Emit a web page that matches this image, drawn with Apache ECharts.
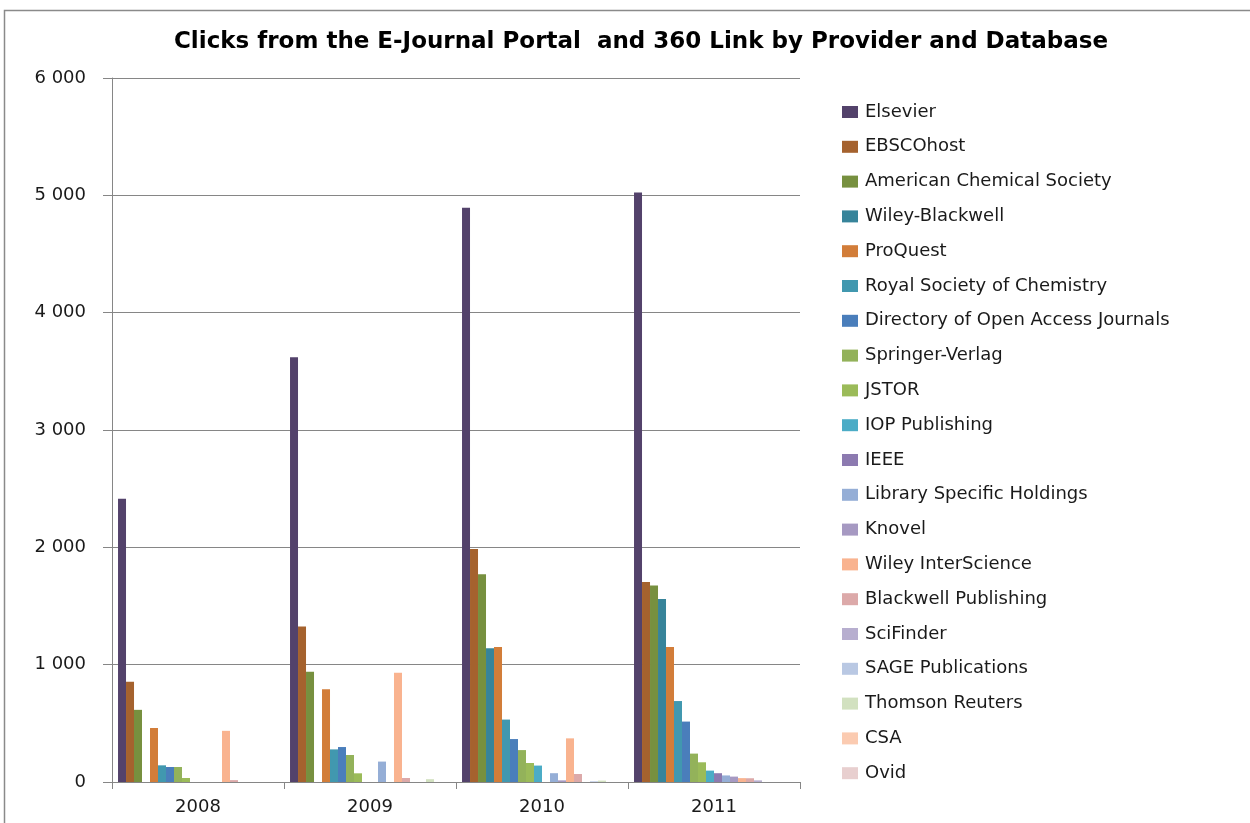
<!DOCTYPE html>
<html>
<head>
<meta charset="utf-8">
<script src="https://cdn.jsdelivr.net/npm/echarts@6/dist/echarts.min.js"></script>
<style>
  html, body { margin: 0; padding: 0; background: #fff; }
  #demo { width: 1250px; height: 823px; }
</style>
</head>
<body>
<div id="demo"></div>
<script>
// data
var years = ['2008', '2009', '2010', '2011'];
var yTicks = [0, 1000, 2000, 3000, 4000, 5000, 6000];

var elsevier      = [2415, 3620, 4895, 5025];
var ebscohost     = [855, 1325, 1985, 1705];
var acs           = [615, 940, 1770, 1675];
var wileyBlack    = [0, 0, 1140, 1560];
var proquest      = [460, 790, 1150, 1150];
var rsc           = [142, 278, 532, 690];
var doaj          = [128, 298, 366, 515];
var springer      = [128, 230, 272, 242];
var jstor         = [34, 74, 162, 168];
var iop           = [0, 0, 140, 97];
var ieee          = [0, 0, 0, 75];
var libSpecific   = [0, 174, 75, 56];
var knovel        = [0, 0, 14, 46];
var wileyInter    = [436, 932, 372, 33];
var blackwell     = [16, 34, 68, 32];
var scifinder     = [0, 0, 0, 14];
var sage          = [0, 0, 6, 0];
var thomson       = [0, 24, 12, 0];
var csa           = [0, 0, 0, 0];
var ovid          = [0, 0, 0, 0];

var providers = ['Elsevier', 'EBSCOhost', 'American Chemical Society', 'Wiley-Blackwell', 'ProQuest',
  'Royal Society of Chemistry', 'Directory of Open Access Journals', 'Springer-Verlag', 'JSTOR',
  'IOP Publishing', 'IEEE', 'Library Specific Holdings', 'Knovel', 'Wiley InterScience',
  'Blackwell Publishing', 'SciFinder', 'SAGE Publications', 'Thomson Reuters', 'CSA', 'Ovid'];
var values = [elsevier, ebscohost, acs, wileyBlack, proquest, rsc, doaj, springer, jstor, iop,
  ieee, libSpecific, knovel, wileyInter, blackwell, scifinder, sage, thomson, csa, ovid];
var colors = ['#53426B', '#A5622E', '#77903F', '#37849A', '#D27D39', '#4198AF', '#4A7EBB',
  '#93B25A', '#9BBB59', '#4BACC6', '#8C7AB0', '#95AED6', '#A699C2', '#F9B38F', '#DCA9A9',
  '#B7AECF', '#B9C8E3', '#D2E1C0', '#FBCBB1', '#E8CFCF'];

var myChart = echarts.init(document.getElementById('demo'));

var series = providers.map(function (name, i) {
  return {
    name: name,
    type: 'bar',
    barGap: '0%',
    barCategoryGap: '7%',
    itemStyle: { color: colors[i] },
    data: values[i]
  };
});

var option = {
  backgroundColor: '#fff',
  animation: false,
  textStyle: { fontFamily: 'DejaVu Sans' },
  title: {
    text: 'Clicks from the E-Journal Portal  and 360 Link by Provider and Database',
    left: 636,
    textAlign: 'center',
    top: 26,
    textStyle: { fontFamily: 'DejaVu Sans', fontSize: 23, fontWeight: 'bold', color: '#000' }
  },
  graphic: [{
    type: 'rect',
    shape: { x: 4.5, y: 10.5, width: 1300, height: 900 },
    style: { fill: 'none', stroke: '#8a8a8a', lineWidth: 1.5 },
    silent: true
  }],
  legend: {
    orient: 'vertical',
    left: 842,
    top: 102,
    padding: 0,
    itemWidth: 16,
    itemHeight: 12,
    itemGap: 14.8,
    icon: 'rect',
    textStyle: { fontSize: 18, color: '#1a1a1a', lineHeight: 20, padding: [0, 0, 0, 2] },
    data: providers
  },
  grid: { left: 112, right: 450, top: 78, bottom: 41, containLabel: false },
  xAxis: {
    type: 'category',
    data: years,
    axisLine: { lineStyle: { color: '#868686', width: 1 } },
    axisTick: { show: true, length: 7, lineStyle: { color: '#868686' } },
    axisLabel: { fontSize: 18, color: '#1a1a1a', margin: 16 }
  },
  yAxis: {
    type: 'value',
    min: yTicks[0],
    max: yTicks[yTicks.length - 1],
    interval: 1000,
    axisLine: { show: true, lineStyle: { color: '#868686' } },
    axisTick: { show: true, length: 9, lineStyle: { color: '#868686' } },
    splitLine: { lineStyle: { color: '#868686' } },
    axisLabel: {
      fontSize: 18, color: '#1a1a1a', margin: 26,
      formatter: function (v) { return String(v).replace(/\B(?=(\d{3})+(?!\d))/g, ' '); }
    }
  },
  series: series
};

myChart.setOption(option);
</script>
</body>
</html>
